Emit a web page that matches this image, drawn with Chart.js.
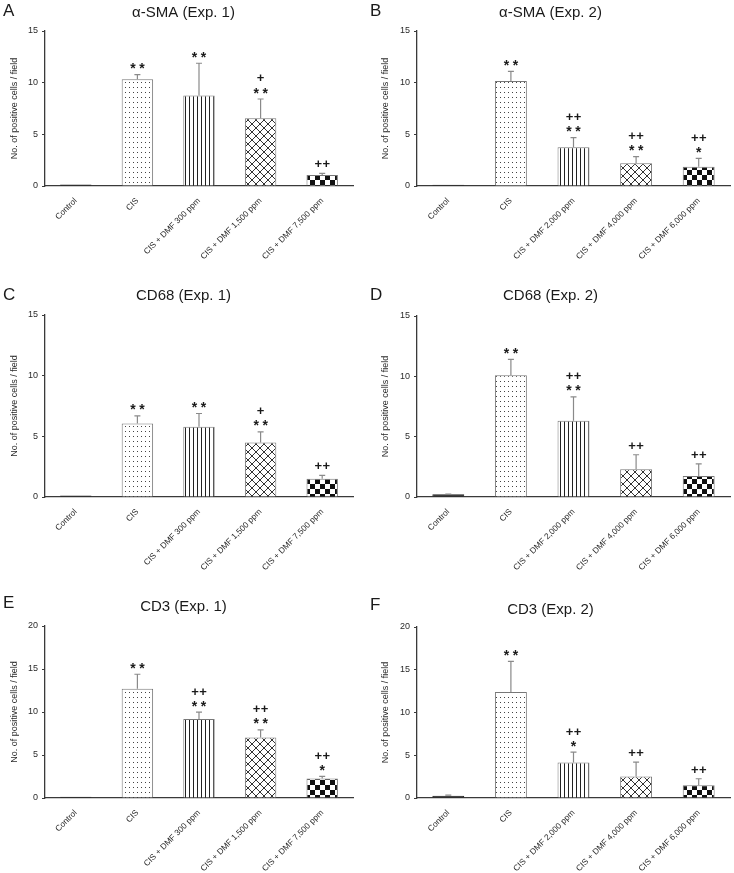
<!DOCTYPE html>
<html>
<head>
<meta charset="utf-8">
<script src="https://cdn.jsdelivr.net/npm/chart.js@4.4.0/dist/chart.umd.min.js"></script>
<style>
  html, body { margin: 0; padding: 0; background: #fff; }
  #fig { position: relative; width: 734px; height: 873px; }
  #fig canvas { position: absolute; }
</style>
</head>
<body>
<div id="fig">
  <canvas id="pA" width="367" height="290" style="left:0;top:0"></canvas>
  <canvas id="pB" width="367" height="290" style="left:367px;top:0"></canvas>
  <canvas id="pC" width="367" height="296" style="left:0;top:284px"></canvas>
  <canvas id="pD" width="367" height="296" style="left:367px;top:284px"></canvas>
  <canvas id="pE" width="367" height="293" style="left:0;top:580px"></canvas>
  <canvas id="pF" width="367" height="293" style="left:367px;top:580px"></canvas>
</div>
<script>
// groups
const groupsExp1 = ['Control', 'CIS', 'CIS + DMF 300 ppm', 'CIS + DMF 1,500 ppm', 'CIS + DMF 7,500 ppm'];
const groupsExp2 = ['Control', 'CIS', 'CIS + DMF 2,000 ppm', 'CIS + DMF 4,000 ppm', 'CIS + DMF 6,000 ppm'];

// α-SMA
const smaExp1 = [0.15, 10.33, 8.75, 6.55, 1.06];
const smaExp1Sd = [0, 0.45, 3.13, 1.87, 0.17];
const smaExp1Sig = [[], ['**'], ['**'], ['+', '**'], ['++']];
const smaExp2 = [0.12, 10.17, 3.75, 2.2, 1.87];
const smaExp2Sd = [0, 0.93, 0.93, 0.64, 0.81];
const smaExp2Sig = [[], ['**'], ['++', '**'], ['++', '**'], ['++', '*']];

// CD68
const cd68Exp1 = [0.12, 6.06, 5.78, 4.49, 1.51];
const cd68Exp1Sd = [0, 0.63, 1.1, 0.88, 0.28];
const cd68Exp1Sig = [[], ['**'], ['**'], ['+', '**'], ['++']];
const cd68Exp2 = [0.22, 10.1, 6.31, 2.3, 1.74];
const cd68Exp2Sd = [0.03, 1.3, 1.99, 1.2, 1.0];
const cd68Exp2Sig = [[], ['**'], ['++', '**'], ['++'], ['++']];

// CD3
const cd3Exp1 = [0.15, 12.69, 9.2, 7.04, 2.28];
const cd3Exp1Sd = [0, 1.7, 0.78, 0.89, 0.23];
const cd3Exp1Sig = [[], ['**'], ['++', '**'], ['++', '**'], ['++', '*']];
const cd3Exp2 = [0.25, 12.39, 4.16, 2.52, 1.48];
const cd3Exp2Sd = [0.08, 3.6, 1.2, 1.67, 0.77];
const cd3Exp2Sig = [[], ['**'], ['++', '*'], ['++'], ['++']];

const yTitle = 'No. of positive cells / field';
const FONT = '"Liberation Sans", Arial, sans-serif';

Chart.defaults.font.family = FONT;
Chart.defaults.color = '#333';

// fill patterns
function makePattern(kind) {
  const c = document.createElement('canvas');
  const g = c.getContext('2d');
  if (kind === 'dots') {
    c.width = 4; c.height = 5;
    g.fillStyle = '#fff'; g.fillRect(0, 0, 4, 5);
    g.fillStyle = '#444'; g.fillRect(1, 2, 1, 1);
  } else if (kind === 'stripes') {
    c.width = 4; c.height = 4;
    g.fillStyle = '#fff'; g.fillRect(0, 0, 4, 4);
    g.fillStyle = '#222'; g.fillRect(1, 0, 1, 4);
  } else if (kind === 'cross') {
    c.width = 8; c.height = 8;
    g.fillStyle = '#fff'; g.fillRect(0, 0, 8, 8);
    g.strokeStyle = '#333'; g.lineWidth = 1;
    g.beginPath();
    g.moveTo(0, 0); g.lineTo(8, 8);
    g.moveTo(8, 0); g.lineTo(0, 8);
    g.stroke();
  } else {
    c.width = 10; c.height = 10;
    g.fillStyle = '#fff'; g.fillRect(0, 0, 10, 10);
    g.fillStyle = '#111'; g.fillRect(0, 0, 5, 5); g.fillRect(5, 5, 5, 5);
  }
  return g.createPattern(c, 'repeat');
}

const fills = ['#111', makePattern('dots'), makePattern('stripes'), makePattern('cross'), makePattern('checker')];

const headingPlugin = {
  id: 'heading',
  afterDraw(chart, args, opts) {
    const ctx = chart.ctx;
    ctx.save();
    ctx.fillStyle = '#1a1a1a';
    ctx.textBaseline = 'middle';
    ctx.textAlign = 'left';
    ctx.font = '17px ' + FONT;
    ctx.fillText(opts.letter, 3, opts.letterY);
    ctx.textAlign = 'center';
    ctx.font = '15px ' + FONT;
    ctx.fillText(opts.title, chart.width / 2, opts.titleY);
    ctx.restore();
  }
};

function drawMarks(ctx, text, x, cy) {
  const star = text[0] === '*';
  const size = star ? 14 : 13;
  ctx.font = 'bold ' + size + 'px ' + FONT;
  const step = star ? 9 : 8;
  const base = cy + (star ? 0.58 : 0.34) * size;
  for (let j = 0; j < text.length; j++) {
    ctx.fillText(text[j], x + (j - (text.length - 1) / 2) * step, base);
  }
}

const errorBarPlugin = {
  id: 'errorBars',
  afterDatasetsDraw(chart, args, opts) {
    const ctx = chart.ctx;
    const yScale = chart.scales.y;
    const values = chart.data.datasets[0].data;
    ctx.save();
    chart.getDatasetMeta(0).data.forEach((bar, i) => {
      const sd = opts.sd[i];
      const yTop = yScale.getPixelForValue(values[i] + sd);
      if (sd > 0) {
        ctx.strokeStyle = '#8a8a8a';
        ctx.lineWidth = 1.2;
        ctx.beginPath();
        ctx.moveTo(bar.x, bar.y);
        ctx.lineTo(bar.x, yTop);
        ctx.moveTo(bar.x - 3, yTop);
        ctx.lineTo(bar.x + 3, yTop);
        ctx.stroke();
      }
      const marks = opts.sig[i];
      ctx.fillStyle = '#1a1a1a';
      ctx.textAlign = 'center';
      ctx.textBaseline = 'alphabetic';
      let cy = yTop - 9.5;
      for (let k = marks.length - 1; k >= 0; k--) {
        drawMarks(ctx, marks[k], bar.x, cy);
        cy -= 11.5;
      }
    });
    ctx.restore();
  }
};

const panels = [
  {id: 'pA', letter: 'A', title: 'α-SMA (Exp. 1)', labels: groupsExp1, values: smaExp1, sd: smaExp1Sd, sig: smaExp1Sig, yMax: 15,
   yWidth: 45, yTitlePad: 9.6, padTop: 31, padRight: 14, xHeight: 104, titleY: 13, letterY: 11},
  {id: 'pB', letter: 'B', title: 'α-SMA (Exp. 2)', labels: groupsExp2, values: smaExp2, sd: smaExp2Sd, sig: smaExp2Sig, yMax: 15,
   yWidth: 50, yTitlePad: 13.6, padTop: 31, padRight: 4, xHeight: 104, titleY: 13, letterY: 11},
  {id: 'pC', letter: 'C', title: 'CD68 (Exp. 1)', labels: groupsExp1, values: cd68Exp1, sd: cd68Exp1Sd, sig: cd68Exp1Sig, yMax: 15,
   yWidth: 45, yTitlePad: 9.6, padTop: 31, padRight: 14, xHeight: 83, titleY: 12, letterY: 11},
  {id: 'pD', letter: 'D', title: 'CD68 (Exp. 2)', labels: groupsExp2, values: cd68Exp2, sd: cd68Exp2Sd, sig: cd68Exp2Sig, yMax: 15,
   yWidth: 50, yTitlePad: 13.6, padTop: 32, padRight: 4, xHeight: 83, titleY: 12, letterY: 11},
  {id: 'pE', letter: 'E', title: 'CD3 (Exp. 1)', labels: groupsExp1, values: cd3Exp1, sd: cd3Exp1Sd, sig: cd3Exp1Sig, yMax: 20,
   yWidth: 45, yTitlePad: 9.6, padTop: 46, padRight: 14, xHeight: 75, titleY: 27, letterY: 23},
  {id: 'pF', letter: 'F', title: 'CD3 (Exp. 2)', labels: groupsExp2, values: cd3Exp2, sd: cd3Exp2Sd, sig: cd3Exp2Sig, yMax: 20,
   yWidth: 50, yTitlePad: 13.6, padTop: 47, padRight: 4, xHeight: 75, titleY: 30, letterY: 25}
];

panels.forEach(p => {
  new Chart(document.getElementById(p.id), {
    type: 'bar',
    data: {
      labels: p.labels,
      datasets: [{
        data: p.values,
        backgroundColor: fills,
        borderColor: ['#222', '#777', '#777', '#777', '#777'],
        borderWidth: 1,
        borderSkipped: 'start',
        barPercentage: 0.51,
        categoryPercentage: 1
      }]
    },
    options: {
      responsive: false,
      animation: false,
      events: [],
      layout: {padding: {top: p.padTop, right: p.padRight, left: 0, bottom: 0}},
      plugins: {
        legend: {display: false},
        tooltip: {enabled: false},
        heading: {letter: p.letter, title: p.title, titleY: p.titleY, letterY: p.letterY},
        errorBars: {sd: p.sd, sig: p.sig}
      },
      scales: {
        x: {
          grid: {display: false, drawTicks: false},
          border: {display: true, color: '#3a3a3a', width: 1.3},
          ticks: {maxRotation: 45, minRotation: 45, autoSkip: false, padding: 10, color: '#2a2a2a', font: {size: 8.3}},
          afterFit: s => { s.height = p.xHeight; }
        },
        y: {
          min: 0,
          max: p.yMax,
          ticks: {stepSize: 5, padding: 4, color: '#2a2a2a', font: {size: 9}},
          grid: {drawOnChartArea: false, drawTicks: true, tickLength: 3, color: '#3a3a3a'},
          border: {display: true, color: '#3a3a3a', width: 1.3},
          title: {display: true, text: yTitle, color: '#2a2a2a', font: {size: 9}, padding: {top: p.yTitlePad, bottom: 0}},
          afterFit: s => { s.width = p.yWidth; }
        }
      }
    },
    plugins: [headingPlugin, errorBarPlugin]
  });
});
</script>
</body>
</html>
